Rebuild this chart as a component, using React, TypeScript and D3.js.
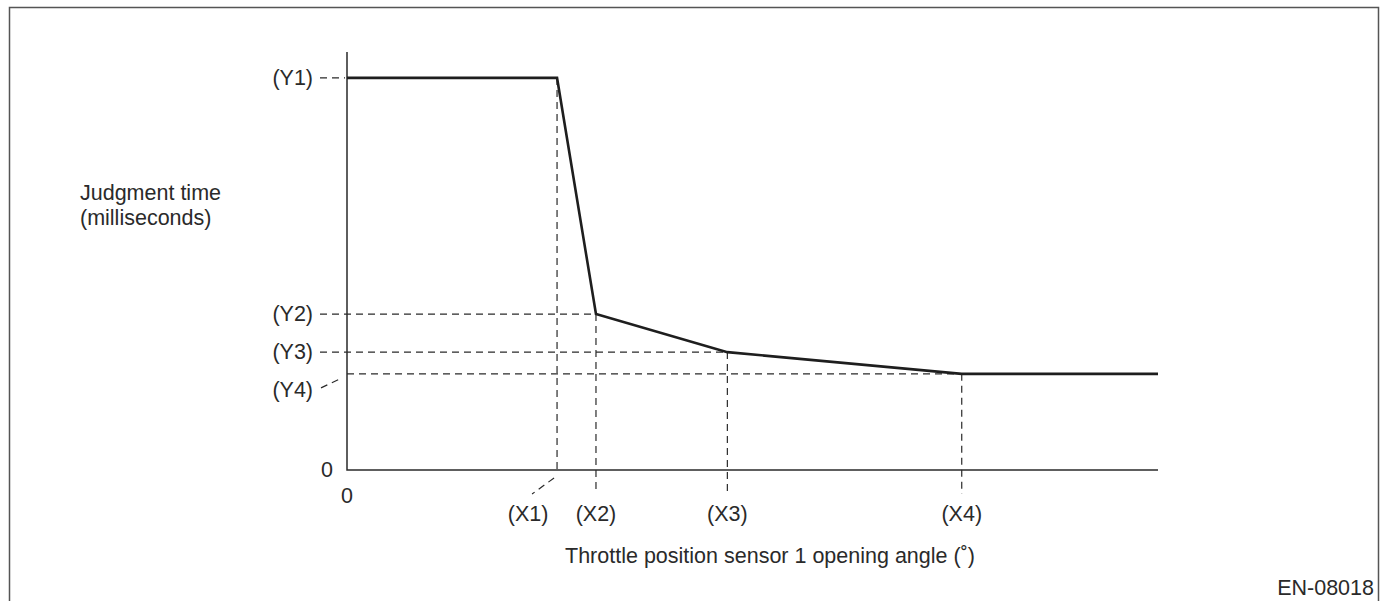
import React, { useRef, useEffect } from 'react';
import * as d3 from 'd3';

// breakpoints of the judgment-time curve (relative units, 0..100)
const xKeys = ['(X1)', '(X2)', '(X3)', '(X4)'];
const xVals = [25.9, 30.7, 46.9, 75.8];
const yKeys = ['(Y1)', '(Y2)', '(Y3)', '(Y4)'];
const yVals = [93.8, 37.3, 28.2, 23.0];
const curveX = [0, 25.9, 30.7, 46.9, 75.8, 100];
const curveY = [93.8, 93.8, 37.3, 28.2, 23.0, 23.0];

function App() {
  const svgRef = useRef<SVGSVGElement | null>(null);

  useEffect(() => {
    const W = 1390;
    const H = 601;
    const svg = d3.select(svgRef.current).attr('width', W).attr('height', H);
    svg.selectAll('*').remove();
    const font = 'Liberation Sans, Arial, sans-serif';
    const ink = '#2a2a2a';
    const fs = 21.5;

    // frame, open at the bottom
    svg
      .append('path')
      .attr('d', `M9.5,${H} V7.5 H1378.5 V${H}`)
      .attr('fill', 'none')
      .attr('stroke', '#555')
      .attr('stroke-width', 1.5);

    const x = d3.scaleLinear().domain([0, 100]).range([347, 1158]);
    const y = d3.scaleLinear().domain([0, 100]).range([470, 52]);
    const dash = '7,5';

    const g = svg.append('g');

    // dashed guides: horizontals from Y labels to curve points
    yVals.forEach((v, i) => {
      const startX = i === 3 ? x(0) : 320;
      g.append('line')
        .attr('x1', startX)
        .attr('x2', i === 0 ? x(0) - 2 : x(xVals[i]))
        .attr('y1', y(v))
        .attr('y2', y(v))
        .attr('stroke', ink)
        .attr('stroke-width', 1.2)
        .attr('stroke-dasharray', dash);
    });
    // Y4 leader
    g.append('line')
      .attr('x1', 321)
      .attr('y1', y(yVals[3]) + 14)
      .attr('x2', 342)
      .attr('y2', y(yVals[3]) + 4)
      .attr('stroke', ink)
      .attr('stroke-width', 1.2)
      .attr('stroke-dasharray', dash);

    // verticals from curve points down past the x axis
    xVals.forEach((v, i) => {
      g.append('line')
        .attr('x1', x(v))
        .attr('x2', x(v))
        .attr('y1', y(curveY[i + 1]))
        .attr('y2', i === 0 ? y(0) : y(0) + 24)
        .attr('stroke', ink)
        .attr('stroke-width', 1.2)
        .attr('stroke-dasharray', dash);
    });
    // X1 leader
    g.append('line')
      .attr('x1', x(xVals[0]) - 3)
      .attr('y1', y(0) + 8)
      .attr('x2', x(xVals[0]) - 25)
      .attr('y2', y(0) + 24)
      .attr('stroke', ink)
      .attr('stroke-width', 1.2)
      .attr('stroke-dasharray', dash);

    // axes
    g.append('path')
      .attr('d', `M${x(0)},${y(100)} V${y(0)} H${x(100)}`)
      .attr('fill', 'none')
      .attr('stroke', ink)
      .attr('stroke-width', 1.5);

    // curve
    const line = d3
      .line<number>()
      .x((d) => x(d))
      .y((d, i) => y(curveY[i]));
    g.append('path')
      .attr('d', line(curveX))
      .attr('fill', 'none')
      .attr('stroke', '#1e1e1e')
      .attr('stroke-width', 2.6)
      .attr('stroke-linejoin', 'miter');

    const text = (tx: number, ty: number, s: string, anchor = 'start') =>
      svg
        .append('text')
        .attr('x', tx)
        .attr('y', ty)
        .attr('text-anchor', anchor)
        .attr('font-family', font)
        .attr('font-size', fs)
        .attr('fill', ink)
        .text(s);

    // y labels
    yVals.forEach((v, i) => {
      text(313, y(v) + (i === 3 ? 23 : 7), yKeys[i], 'end');
    });
    text(333, y(0) + 7, '0', 'end');
    text(x(0), y(0) + 33, '0', 'middle');

    // x labels
    xVals.forEach((v, i) => {
      text(i === 0 ? x(v) - 29 : x(v), y(0) + 51, xKeys[i], 'middle');
    });

    // titles
    text(80, 200, 'Judgment time');
    text(80, 225, '(milliseconds)');
    text(770, 563, 'Throttle position sensor 1 opening angle (˚)', 'middle');
    text(1374, 595, 'EN-08018', 'end');
  }, []);

  return (
    <div>
      <svg ref={svgRef} style={{ position: 'absolute', left: 0, top: 0 }}></svg>
    </div>
  );
}

export default App;
